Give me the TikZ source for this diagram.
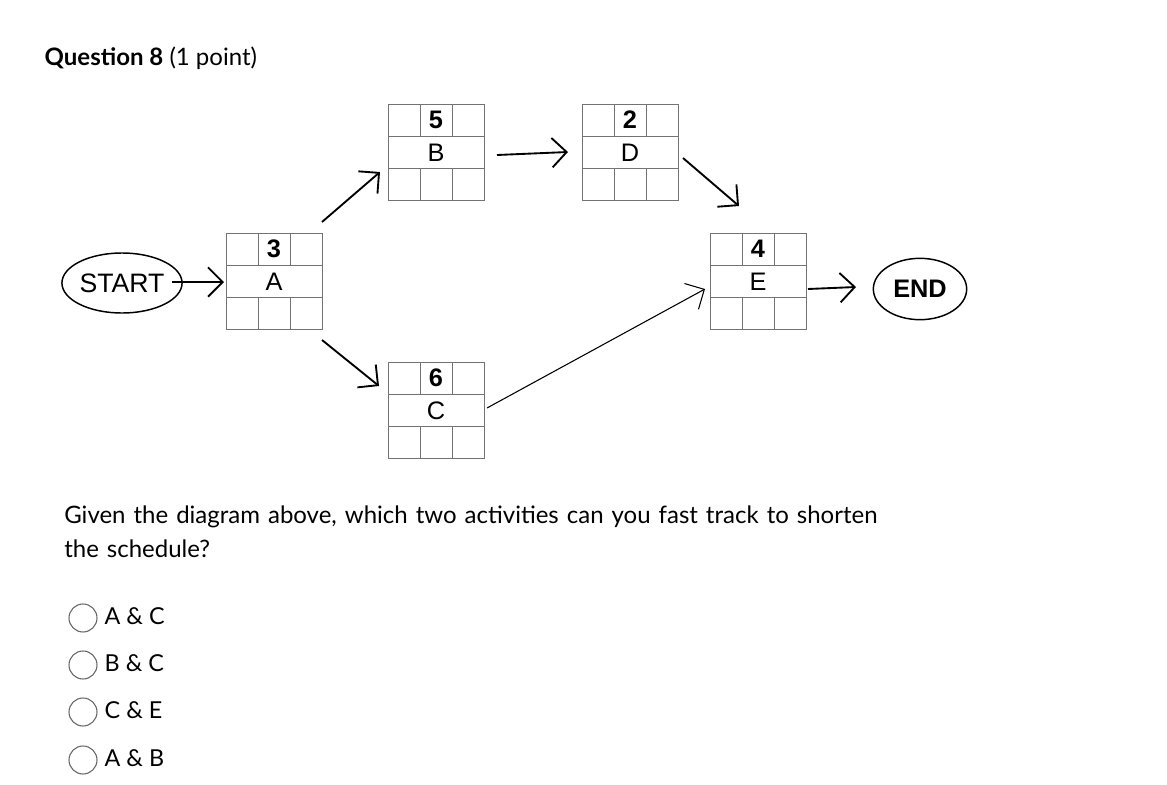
\documentclass[tikz,border=0pt]{standalone}
\usepackage{fontspec}
\setmainfont{Lato}
\newfontfamily\arialf{Liberation Sans}
\usetikzlibrary{arrows.meta,shapes.geometric}
\begin{document}
\begin{tikzpicture}[x=0.75pt,y=-0.75pt,
  cell/.style={draw=black!55,line width=0.6pt},
  arr/.style={line width=1.4pt,-{Straight Barb[length=11pt,width=22pt,line width=1.4pt]}},
  oval/.style={draw,ellipse,line width=1.1pt,font=\arialf\fontsize{20}{20}\selectfont},
  radio/.style={draw=black!60,circle,minimum size=21pt,inner sep=0pt,line width=0.8pt},
  q/.style={anchor=west,font=\fontsize{17.5}{20}\selectfont}]
\useasboundingbox (0,0) rectangle (1167,785);
\newcommand{\actbox}[5]{% name, x, y, dur, letter
  \begin{scope}[shift={(#2,#3)}]
    \draw[cell] (0,0) rectangle (96,96);
    \draw[cell] (0,32) -- (96,32) (0,64) -- (96,64);
    \draw[cell] (32,0) -- (32,32) (64,0) -- (64,32) (32,64) -- (32,96) (64,64) -- (64,96);
    \node[font=\arialf\bfseries\fontsize{19}{19}\selectfont] at (48,16) {#4};
    \node[font=\arialf\fontsize{19}{19}\selectfont] at (48,49) {#5};
    \node[inner sep=0pt,minimum size=0pt] (#1) at (48,48) {};
  \end{scope}}
\actbox{A}{226}{233}{3}{A}
\actbox{B}{388}{104}{5}{B}
\actbox{D}{582}{104}{2}{D}
\actbox{E}{710}{233}{4}{E}
\actbox{C}{388}{362}{6}{C}
\node[oval,minimum width=72pt,minimum height=45pt,inner sep=0pt] (start) at (122,283) {START};
\node[oval,minimum width=70pt,minimum height=46pt,inner sep=0pt,font=\arialf\bfseries\fontsize{19}{19}\selectfont] (end) at (920,289) {END};
\coordinate (s1) at (172,282); \coordinate (s2) at (224,282);
\coordinate (a1) at (322,222); \coordinate (a2) at (380,172);
\coordinate (c1) at (322,340); \coordinate (c2) at (379,386);
\coordinate (b1) at (497,155); \coordinate (b2) at (568,152);
\coordinate (d1) at (683,158); \coordinate (d2) at (739,206);
\coordinate (e1) at (487,408); \coordinate (e2) at (705,289);
\coordinate (f1) at (808,289); \coordinate (f2) at (856,287);
\draw[arr] (s1) -- (s2);
\draw[arr] (a1) -- (a2);
\draw[arr] (c1) -- (c2);
\draw[arr] (b1) -- (b2);
\draw[arr] (d1) -- (d2);
\draw[line width=0.8pt,-{Straight Barb[length=11pt,width=22pt,line width=0.8pt]}] (e1) -- (e2);
\draw[arr] (f1) -- (f2);
\node[anchor=west,font=\fontsize{18}{20}\selectfont] (title) at (40,58) {\textbf{Question 8} (1 point)};
\node[anchor=north west,text width=635pt,font=\fontsize{18}{25}\selectfont,inner sep=0pt,align=left] (stem) at (64,506) {Given the diagram above, which two activities can you fast track to shorten the schedule?};
\foreach \yy/\t [count=\i] in {618/A \& C,665/B \& C,712/C \& E,760/A \& B}{
  \node[radio] (r\i) at (83,\yy) {};
  \node[q] (l\i) at (100,\yy-2) {\t};
}
\end{tikzpicture}
\end{document}
